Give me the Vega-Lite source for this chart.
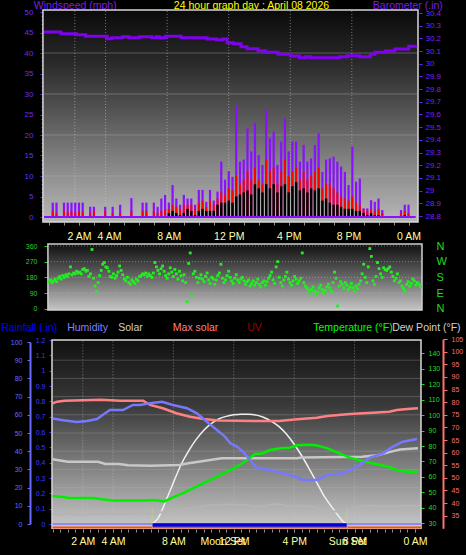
{
  "$schema": "https://vega.github.io/schema/vega-lite/v6.json",
  "width": 466,
  "height": 555,
  "autosize": {"type": "none"},
  "padding": 0,
  "background": "#000000",
  "config": {
    "font": "Liberation Sans",
    "view": {"stroke": null},
    "axis": {"labelOverlap": false, "labelFlush": false, "labelBound": false, "titleFontWeight": "normal", "titleFont": "Liberation Sans", "labelFont": "Liberation Sans", "grid": false, "domain": false, "titlePadding": 0}
  },
  "datasets": {
    "wind": [
      {"h":0,"g":0,"w":0,"a":0},{"h":0.25,"g":3.5,"w":1.5,"a":0},{"h":0.5,"g":3.5,"w":1,"a":0},{"h":0.75,"g":0,"w":0,"a":0},
      {"h":1,"g":3.5,"w":1.5,"a":0},{"h":1.25,"g":3.5,"w":1.2,"a":0},{"h":1.5,"g":3.5,"w":1.5,"a":0},{"h":1.75,"g":3.5,"w":1,"a":0},
      {"h":2,"g":3.5,"w":1.5,"a":0},{"h":2.25,"g":3.5,"w":1.2,"a":0},{"h":2.5,"g":0,"w":0,"a":0},{"h":2.75,"g":2.5,"w":1,"a":0},
      {"h":3,"g":2.5,"w":1.5,"a":0},{"h":3.25,"g":0,"w":0,"a":0},{"h":3.5,"g":0,"w":0,"a":0},{"h":3.75,"g":2.5,"w":1.5,"a":0},
      {"h":4,"g":0,"w":0,"a":0},{"h":4.25,"g":2.5,"w":1,"a":0},{"h":4.5,"g":0,"w":0,"a":0},{"h":4.75,"g":3,"w":1,"a":0},
      {"h":5,"g":0,"w":0,"a":0},{"h":5.25,"g":0,"w":0,"a":0},{"h":5.5,"g":4.6,"w":1.5,"a":0},{"h":5.75,"g":0,"w":0,"a":0},
      {"h":6,"g":0,"w":0,"a":0},{"h":6.25,"g":3.5,"w":1.5,"a":0},{"h":6.5,"g":3.5,"w":1.5,"a":0},{"h":6.75,"g":0,"w":0,"a":0},
      {"h":7,"g":3.5,"w":1.5,"a":0},{"h":7.25,"g":2.5,"w":1,"a":0},{"h":7.5,"g":4.5,"w":1.5,"a":0},{"h":7.75,"g":5.4,"w":2,"a":0},
      {"h":8,"g":3.5,"w":2,"a":1},{"h":8.25,"g":7.8,"w":3,"a":1.5},{"h":8.5,"g":4.5,"w":2.5,"a":1},{"h":8.75,"g":3,"w":2,"a":0.5},
      {"h":9,"g":5.4,"w":3,"a":1},{"h":9.25,"g":4.5,"w":3,"a":2},{"h":9.5,"g":4.5,"w":3,"a":1.5},{"h":9.75,"g":3,"w":2,"a":0.5},
      {"h":10,"g":6.6,"w":3.5,"a":1.5},{"h":10.25,"g":6.6,"w":4,"a":2},{"h":10.5,"g":3.7,"w":2.5,"a":1.5},{"h":10.75,"g":6.6,"w":4,"a":1.5},
      {"h":11,"g":4,"w":3,"a":1.5},{"h":11.25,"g":6.2,"w":4.5,"a":3},{"h":11.5,"g":13.5,"w":6,"a":3.5},{"h":11.75,"g":9.1,"w":5.5,"a":3.5},
      {"h":12,"g":11.2,"w":7,"a":4},{"h":12.25,"g":9.8,"w":6.5,"a":3.5},{"h":12.5,"g":27.3,"w":10,"a":5},{"h":12.75,"g":13.5,"w":8,"a":5.5},
      {"h":13,"g":14,"w":9,"a":6},{"h":13.25,"g":21.6,"w":11,"a":6.5},{"h":13.5,"g":16,"w":9,"a":5.5},{"h":13.75,"g":22.9,"w":12,"a":8},
      {"h":14,"g":15.1,"w":9,"a":7},{"h":14.25,"g":12.7,"w":8,"a":6},{"h":14.5,"g":26.1,"w":14,"a":8},{"h":14.75,"g":19.2,"w":11,"a":7},
      {"h":15,"g":20.8,"w":12,"a":8},{"h":15.25,"g":12.7,"w":8,"a":6},{"h":15.5,"g":18.4,"w":11,"a":7.5},{"h":15.75,"g":24,"w":14,"a":8},
      {"h":16,"g":16,"w":10,"a":6},{"h":16.25,"g":18.4,"w":11,"a":7.5},{"h":16.5,"g":18.4,"w":12,"a":8.5},{"h":16.75,"g":13.5,"w":9,"a":6.5},
      {"h":17,"g":17.6,"w":11,"a":7},{"h":17.25,"g":13.5,"w":9,"a":6},{"h":17.5,"g":14.3,"w":10,"a":7},{"h":17.75,"g":17.6,"w":11,"a":6.5},
      {"h":18,"g":20.4,"w":12,"a":7},{"h":18.25,"g":11,"w":7,"a":4},{"h":18.5,"g":14,"w":8,"a":4.5},{"h":18.75,"g":14.3,"w":8,"a":3.5},
      {"h":19,"g":14.7,"w":7,"a":3},{"h":19.25,"g":13.5,"w":6,"a":3},{"h":19.5,"g":12.3,"w":5,"a":2.5},{"h":19.75,"g":11,"w":4.5,"a":2},
      {"h":20,"g":7.8,"w":4,"a":2},{"h":20.25,"g":17.2,"w":5,"a":2},{"h":20.5,"g":8.6,"w":3.5,"a":1.5},{"h":20.75,"g":9.4,"w":3,"a":1.5},
      {"h":21,"g":2.1,"w":2,"a":1},{"h":21.25,"g":2.1,"w":1.5,"a":0.5},{"h":21.5,"g":4.1,"w":2,"a":1},{"h":21.75,"g":3.7,"w":1.5,"a":0.5},
      {"h":22,"g":4.5,"w":2,"a":0.5},{"h":22.25,"g":1.7,"w":1,"a":0},{"h":22.5,"g":0,"w":0,"a":0},{"h":22.75,"g":0,"w":0,"a":0},
      {"h":23,"g":0,"w":0,"a":0},{"h":23.25,"g":0,"w":0,"a":0},{"h":23.5,"g":1.7,"w":1,"a":0},{"h":23.75,"g":3,"w":1.5,"a":0.5},
      {"h":24,"g":3,"w":1,"a":0},{"h":24.25,"g":0,"w":0,"a":0}
    ],
    "baro": [
      {"h":0,"v":30.25},{"h":1.1,"v":30.237},{"h":2.1,"v":30.229},{"h":2.7,"v":30.216},{"h":4.1,"v":30.197},{"h":4.4,"v":30.205},
      {"h":5.1,"v":30.213},{"h":5.5,"v":30.205},{"h":6.2,"v":30.213},{"h":7.0,"v":30.205},{"h":7.3,"v":30.213},{"h":7.5,"v":30.205},
      {"h":7.9,"v":30.216},{"h":8.9,"v":30.205},{"h":10.6,"v":30.195},{"h":11.2,"v":30.19},{"h":11.6,"v":30.195},{"h":11.9,"v":30.166},
      {"h":12.3,"v":30.158},{"h":12.8,"v":30.134},{"h":13.2,"v":30.119},{"h":13.9,"v":30.103},{"h":14.4,"v":30.09},{"h":15.2,"v":30.075},
      {"h":16.0,"v":30.061},{"h":16.6,"v":30.048},{"h":17.0,"v":30.056},{"h":17.3,"v":30.048},{"h":19.2,"v":30.056},{"h":19.7,"v":30.064},
      {"h":20.5,"v":30.056},{"h":21.2,"v":30.075},{"h":21.5,"v":30.09},{"h":22.2,"v":30.1},{"h":22.8,"v":30.116},{"h":23.7,"v":30.138},
      {"h":24.15,"v":30.145}
    ],
    "dir": [
      {"h":0,"d":155},{"h":0.1,"d":165},{"h":0.2,"d":150},{"h":0.3,"d":160},{"h":0.4,"d":170},{"h":0.5,"d":155},{"h":0.6,"d":175},{"h":0.7,"d":185},{"h":0.8,"d":170},{"h":0.9,"d":190},
      {"h":1,"d":180},{"h":1.1,"d":195},{"h":1.2,"d":185},{"h":1.3,"d":200},{"h":1.4,"d":240},{"h":1.5,"d":195},{"h":1.6,"d":205},{"h":1.7,"d":200},{"h":1.8,"d":215},{"h":1.9,"d":205},
      {"h":2,"d":210},{"h":2.1,"d":200},{"h":2.2,"d":225},{"h":2.3,"d":230},{"h":2.4,"d":215},{"h":2.5,"d":220},{"h":2.6,"d":185},{"h":2.7,"d":200},{"h":2.8,"d":340},{"h":2.9,"d":175},
      {"h":3,"d":130},{"h":3.1,"d":100},{"h":3.2,"d":150},{"h":3.3,"d":190},{"h":3.4,"d":220},{"h":3.5,"d":255},{"h":3.6,"d":265},{"h":3.7,"d":240},{"h":3.8,"d":235},{"h":3.9,"d":215},
      {"h":4,"d":185},{"h":4.1,"d":180},{"h":4.2,"d":200},{"h":4.3,"d":175},{"h":4.4,"d":190},{"h":4.5,"d":210},{"h":4.6,"d":245},{"h":4.7,"d":220},{"h":4.8,"d":195},{"h":4.9,"d":170},
      {"h":5,"d":160},{"h":5.1,"d":180},{"h":5.2,"d":150},{"h":5.3,"d":140},{"h":5.4,"d":165},{"h":5.5,"d":155},{"h":5.6,"d":145},{"h":5.7,"d":170},{"h":5.8,"d":160},{"h":5.9,"d":185},
      {"h":6,"d":190},{"h":6.1,"d":200},{"h":6.2,"d":195},{"h":6.3,"d":205},{"h":6.4,"d":185},{"h":6.5,"d":200},{"h":6.6,"d":190},{"h":6.7,"d":180},{"h":6.8,"d":205},{"h":6.9,"d":265},
      {"h":7,"d":240},{"h":7.1,"d":220},{"h":7.2,"d":200},{"h":7.3,"d":230},{"h":7.4,"d":245},{"h":7.5,"d":215},{"h":7.6,"d":190},{"h":7.7,"d":175},{"h":7.8,"d":200},{"h":7.9,"d":235},
      {"h":8,"d":210},{"h":8.1,"d":185},{"h":8.2,"d":225},{"h":8.3,"d":200},{"h":8.4,"d":170},{"h":8.5,"d":215},{"h":8.6,"d":190},{"h":8.7,"d":160},{"h":8.8,"d":195},{"h":8.9,"d":150},
      {"h":9,"d":40},{"h":9.1,"d":260},{"h":9.2,"d":320},{"h":9.3,"d":80},{"h":9.4,"d":200},{"h":9.5,"d":215},{"h":9.6,"d":180},{"h":9.7,"d":150},{"h":9.8,"d":175},{"h":9.9,"d":195},
      {"h":10,"d":170},{"h":10.1,"d":155},{"h":10.2,"d":185},{"h":10.3,"d":205},{"h":10.4,"d":165},{"h":10.5,"d":145},{"h":10.6,"d":180},{"h":10.7,"d":170},{"h":10.8,"d":140},{"h":10.9,"d":165},
      {"h":11,"d":190},{"h":11.1,"d":205},{"h":11.2,"d":255},{"h":11.3,"d":175},{"h":11.4,"d":150},{"h":11.5,"d":165},{"h":11.6,"d":190},{"h":11.7,"d":215},{"h":11.8,"d":180},{"h":11.9,"d":160},
      {"h":12,"d":145},{"h":12.1,"d":175},{"h":12.2,"d":195},{"h":12.3,"d":165},{"h":12.4,"d":150},{"h":12.5,"d":170},{"h":12.6,"d":180},{"h":12.7,"d":160},{"h":12.8,"d":140},{"h":12.9,"d":155},
      {"h":13,"d":165},{"h":13.1,"d":130},{"h":13.2,"d":145},{"h":13.3,"d":160},{"h":13.4,"d":135},{"h":13.5,"d":150},{"h":13.6,"d":170},{"h":13.7,"d":140},{"h":13.8,"d":125},{"h":13.9,"d":150},
      {"h":14,"d":160},{"h":14.1,"d":135},{"h":14.2,"d":155},{"h":14.3,"d":175},{"h":14.4,"d":190},{"h":14.5,"d":210},{"h":14.6,"d":165},{"h":14.7,"d":145},{"h":14.8,"d":240},{"h":14.9,"d":270},
      {"h":15,"d":180},{"h":15.1,"d":150},{"h":15.2,"d":130},{"h":15.3,"d":165},{"h":15.4,"d":185},{"h":15.5,"d":210},{"h":15.6,"d":170},{"h":15.7,"d":150},{"h":15.8,"d":135},{"h":15.9,"d":160},
      {"h":16,"d":185},{"h":16.1,"d":170},{"h":16.2,"d":145},{"h":16.3,"d":160},{"h":16.4,"d":175},{"h":16.5,"d":320},{"h":16.6,"d":150},{"h":16.7,"d":130},{"h":16.8,"d":120},{"h":16.9,"d":105},
      {"h":17,"d":90},{"h":17.1,"d":110},{"h":17.2,"d":125},{"h":17.3,"d":100},{"h":17.4,"d":80},{"h":17.5,"d":95},{"h":17.6,"d":120},{"h":17.7,"d":135},{"h":17.8,"d":110},{"h":17.9,"d":90},
      {"h":18,"d":105},{"h":18.1,"d":125},{"h":18.2,"d":140},{"h":18.3,"d":120},{"h":18.4,"d":100},{"h":18.5,"d":150},{"h":18.6,"d":210},{"h":18.7,"d":175},{"h":18.8,"d":15},{"h":18.9,"d":130},
      {"h":19,"d":155},{"h":19.1,"d":140},{"h":19.2,"d":120},{"h":19.3,"d":150},{"h":19.4,"d":135},{"h":19.5,"d":110},{"h":19.6,"d":125},{"h":19.7,"d":145},{"h":19.8,"d":120},{"h":19.9,"d":100},
      {"h":20,"d":130},{"h":20.1,"d":115},{"h":20.2,"d":140},{"h":20.3,"d":160},{"h":20.4,"d":200},{"h":20.5,"d":255},{"h":20.6,"d":180},{"h":20.7,"d":150},{"h":20.8,"d":240},{"h":20.9,"d":345},
      {"h":21,"d":300},{"h":21.1,"d":160},{"h":21.2,"d":140},{"h":21.3,"d":185},{"h":21.4,"d":265},{"h":21.5,"d":230},{"h":21.6,"d":200},{"h":21.7,"d":180},{"h":21.8,"d":235},{"h":21.9,"d":225},
      {"h":22,"d":220},{"h":22.1,"d":230},{"h":22.2,"d":240},{"h":22.3,"d":210},{"h":22.4,"d":185},{"h":22.5,"d":160},{"h":22.6,"d":175},{"h":22.7,"d":200},{"h":22.8,"d":150},{"h":22.9,"d":160},
      {"h":23,"d":130},{"h":23.1,"d":115},{"h":23.2,"d":100},{"h":23.3,"d":140},{"h":23.4,"d":155},{"h":23.5,"d":130},{"h":23.6,"d":145},{"h":23.7,"d":170},{"h":23.8,"d":160},{"h":23.9,"d":135},
      {"h":24,"d":150},{"h":24.1,"d":140},{"h":24.2,"d":125}
    ],
    "hum": [
      {"h":0,"v":58},{"h":0.69,"v":57},{"h":1.62,"v":56},{"h":2.28,"v":56.6},{"h":2.94,"v":57.7},{"h":3.34,"v":60},{"h":3.8,"v":62.6},
      {"h":4.66,"v":62.6},{"h":5.32,"v":65.4},{"h":5.78,"v":65.4},{"h":6.45,"v":66.3},{"h":7.25,"v":67.2},{"h":7.97,"v":65.4},{"h":8.9,"v":63.6},
      {"h":9.56,"v":60.8},{"h":10.22,"v":56.2},{"h":10.89,"v":51.6},{"h":11.42,"v":48},{"h":11.75,"v":44.5},{"h":12.21,"v":42.5},{"h":12.61,"v":39.7},
      {"h":13.07,"v":35.2},{"h":13.54,"v":30.6},{"h":14.4,"v":29.7},{"h":15.26,"v":27.9},{"h":15.92,"v":26.5},{"h":16.58,"v":24.2},{"h":17.51,"v":24.2},
      {"h":18.17,"v":26.9},{"h":19.23,"v":27.9},{"h":20.16,"v":31.5},{"h":21.02,"v":36.5},{"h":21.88,"v":38.8},{"h":22.54,"v":42.5},{"h":23.2,"v":45.2},
      {"h":24.13,"v":46.7}
    ],
    "temp": [
      {"h":0,"v":47.7},{"h":0.7,"v":47},{"h":1,"v":46.6},{"h":2.7,"v":46.3},{"h":3.3,"v":45.5},{"h":4,"v":44.8},{"h":6,"v":44.8},{"h":6.7,"v":45.1},
      {"h":7.4,"v":44.2},{"h":7.97,"v":46.8},{"h":8.6,"v":49.4},{"h":9.3,"v":52.6},{"h":9.96,"v":55.9},{"h":10.9,"v":60.2},{"h":11.55,"v":63.4},
      {"h":12.2,"v":66.6},{"h":12.9,"v":71},{"h":13.4,"v":74.8},{"h":13.9,"v":75.2},{"h":14.4,"v":77.4},{"h":15.1,"v":78.5},{"h":15.7,"v":78.9},
      {"h":16.2,"v":80.5},{"h":17,"v":80.9},{"h":17.5,"v":80.4},{"h":18.2,"v":78.5},{"h":18.8,"v":76},{"h":19.7,"v":72.5},{"h":20.6,"v":70},
      {"h":21.5,"v":68.2},{"h":22.3,"v":66.4},{"h":22.8,"v":64.5},{"h":23.5,"v":63.4},{"h":24.2,"v":63.4}
    ],
    "dew": [
      {"h":0,"v":57.4},{"h":1,"v":56.4},{"h":3,"v":56.4},{"h":3.5,"v":55.5},{"h":4.4,"v":55.5},{"h":5,"v":55},{"h":6.5,"v":54.8},{"h":8.4,"v":55.1},
      {"h":9,"v":55.8},{"h":10,"v":56.7},{"h":11.2,"v":57.8},{"h":16.2,"v":57.8},{"h":16.5,"v":58.1},{"h":20.5,"v":58.4},{"h":21.5,"v":59},
      {"h":22.5,"v":60.5},{"h":23,"v":61.2},{"h":24.2,"v":61.7}
    ],
    "pink": [
      {"h":0,"v":79.5},{"h":0.3,"v":80.2},{"h":0.8,"v":80.6},{"h":3.2,"v":81},{"h":4.5,"v":80.6},{"h":6,"v":80.6},{"h":6.45,"v":78.9},{"h":7.3,"v":77.6},
      {"h":8.2,"v":75.6},{"h":9.1,"v":74.2},{"h":10,"v":73.3},{"h":11,"v":72.7},{"h":15,"v":72.5},{"h":16.2,"v":73.2},{"h":17.5,"v":73.8},
      {"h":18.2,"v":74.5},{"h":19.7,"v":75.3},{"h":21.2,"v":75.8},{"h":22.3,"v":76.2},{"h":22.8,"v":76.9},{"h":23.5,"v":77.3},{"h":24.2,"v":77.6}
    ],
    "solar": [
      {"h":0,"v":65},{"h":0.5,"v":60},{"h":1,"v":68},{"h":1.5,"v":62},{"h":2,"v":58},{"h":2.5,"v":66},{"h":3,"v":62},{"h":3.5,"v":70},{"h":4,"v":64},
      {"h":4.5,"v":68},{"h":5,"v":62},{"h":5.5,"v":70},{"h":6,"v":72},{"h":6.5,"v":66},{"h":7,"v":74},{"h":7.5,"v":80},{"h":8,"v":88},{"h":8.5,"v":95},
      {"h":9,"v":102},{"h":9.5,"v":110},{"h":10,"v":118},{"h":10.5,"v":124},{"h":11,"v":120},{"h":11.5,"v":128},{"h":12,"v":122},{"h":12.5,"v":126},
      {"h":13,"v":120},{"h":13.5,"v":112},{"h":14,"v":118},{"h":14.5,"v":126},{"h":15,"v":130},{"h":15.5,"v":118},{"h":16,"v":112},{"h":16.5,"v":120},
      {"h":17,"v":116},{"h":17.5,"v":108},{"h":18,"v":96},{"h":18.5,"v":85},{"h":19,"v":78},{"h":19.5,"v":92},{"h":20,"v":110},{"h":20.5,"v":116},
      {"h":21,"v":120},{"h":21.5,"v":114},{"h":22,"v":118},{"h":22.5,"v":112},{"h":23,"v":116},{"h":23.5,"v":120},{"h":24,"v":118},{"h":24.3,"v":116}
    ],
    "maxsolar": [
      {"h":6.6,"v":0},{"h":7,"v":40},{"h":7.5,"v":150},{"h":8,"v":270},{"h":8.5,"v":385},{"h":9,"v":475},{"h":9.5,"v":550},{"h":10,"v":610},
      {"h":10.5,"v":655},{"h":11,"v":685},{"h":11.5,"v":702},{"h":12,"v":712},{"h":12.5,"v":716},{"h":13,"v":716},{"h":13.5,"v":710},{"h":14,"v":695},
      {"h":14.5,"v":670},{"h":15,"v":635},{"h":15.5,"v":585},{"h":16,"v":520},{"h":16.5,"v":445},{"h":17,"v":360},{"h":17.5,"v":270},{"h":18,"v":180},
      {"h":18.5,"v":110},{"h":19,"v":45},{"h":19.25,"v":15},{"h":19.5,"v":0}
    ],
    "rain": [{"h":0,"v":0},{"h":24.4,"v":0}],
    "daylight": [{"h":6.6,"v":0},{"h":19.5,"v":0}],
    "uv": [{"h":0,"v":0},{"h":24.4,"v":0}],
    "sun": [{"h":6.6},{"h":19.5}]
  },
  "layer": [
    {
      "data": {"values": [{}]},
      "mark": {"type": "rect", "fill": {"gradient": "linear", "x1": 0, "y1": 0, "x2": 0, "y2": 1, "stops": [{"offset": 0, "color": "#0a0a0a"}, {"offset": 0.25, "color": "#2a2a2a"}, {"offset": 0.5, "color": "#585858"}, {"offset": 0.75, "color": "#8a8a8a"}, {"offset": 1, "color": "#b8b8b8"}]}, "stroke": "#d8d8d8", "strokeWidth": 1.5},
      "encoding": {
        "x": {"datum": -0.07, "type": "quantitative", "scale": {"domain": [0, 24.3], "range": [44, 418], "nice": false, "zero": false}, "axis": null},
        "x2": {"datum": 24.3},
        "y": {"datum": -1.2, "type": "quantitative", "scale": {"domain": [0, 50], "range": [217, 12], "nice": false, "zero": false}, "axis": null},
        "y2": {"datum": 50.5}
      }
    },
    {
      "data": {"values": [{"t": 2}, {"t": 4}, {"t": 8}, {"t": 12}, {"t": 16}, {"t": 20}]},
      "mark": {"type": "rule", "color": "#d0d0d0", "strokeDash": [1, 2], "opacity": 0.55},
      "encoding": {
        "x": {"field": "t", "type": "quantitative", "scale": {"domain": [0, 24.3], "range": [44, 418], "nice": false, "zero": false}, "axis": null},
        "y": {"datum": -1.2, "type": "quantitative", "scale": {"domain": [0, 50], "range": [217, 12], "nice": false, "zero": false}, "axis": null},
        "y2": {"datum": 50.5}
      }
    },
    {
      "data": {"values": [{"s": 10}, {"s": 20}, {"s": 30}, {"s": 40}]},
      "mark": {"type": "rule", "color": "#b0b0b0", "opacity": 0.4},
      "encoding": {
        "y": {"field": "s", "type": "quantitative", "scale": {"domain": [0, 50], "range": [217, 12], "nice": false, "zero": false}, "axis": null},
        "x": {"datum": -0.07, "type": "quantitative", "scale": {"domain": [0, 24.3], "range": [44, 418], "nice": false, "zero": false}, "axis": null},
        "x2": {"datum": 24.3}
      }
    },
    {
      "data": {"name": "wind"},
      "mark": {"type": "bar", "width": 2.2, "color": "#8a10ff"},
      "encoding": {
        "x": {"field": "h", "type": "quantitative", "scale": {"domain": [0, 24.3], "range": [44, 418], "nice": false, "zero": false},
          "axis": {"orient": "bottom", "offset": -333, "values": [2, 4, 8, 12, 16, 20, 24], "labelExpr": "datum.value == 24 ? '0 AM' : datum.value == 12 ? '12 PM' : datum.value < 12 ? datum.value + ' AM' : (datum.value - 12) + ' PM'", "ticks": true, "tickSize": 3, "tickColor": "#909090", "labelColor": "#ffffa0", "labelFontSize": 10.5, "labelPadding": 6, "title": "24 hour graph day : April 08 2026", "titleColor": "#ffff00", "titleFontSize": 10.5, "titleX": 251, "titleY": -213.5, "titleAlign": "center", "titleBaseline": "alphabetic"}},
        "y": {"field": "g", "type": "quantitative", "scale": {"domain": [0, 50], "range": [217, 12], "nice": false, "zero": false},
          "axis": {"orient": "left", "offset": -43, "values": [0, 5, 10, 15, 20, 25, 30, 35, 40, 45, 50], "ticks": true, "tickSize": 3, "tickColor": "#7020ff", "labelColor": "#6a2cff", "labelFontSize": 8, "labelPadding": 7, "title": "Windspeed (mph)", "titleColor": "#7a1fe8", "titleFontSize": 10.5, "titleAngle": 0, "titleAlign": "left", "titleBaseline": "alphabetic", "titleX": -9.7, "titleY": 8.5}},
        "y2": {"datum": 0}
      }
    },
    {
      "data": {"name": "wind"},
      "mark": {"type": "bar", "width": 2, "color": "#ff0000"},
      "encoding": {
        "x": {"field": "h", "type": "quantitative", "scale": {"domain": [0, 24.3], "range": [44, 418], "nice": false, "zero": false},
          "axis": {"orient": "bottom", "offset": -333, "values": [0, 1, 2, 3, 4, 5, 6, 7, 8, 9, 10, 11, 12, 13, 14, 15, 16, 17, 18, 19, 20, 21, 22, 23, 24], "labels": false, "ticks": true, "tickSize": 3, "tickColor": "#909090", "title": null}},
        "y": {"field": "w", "type": "quantitative", "scale": {"domain": [0, 50], "range": [217, 12], "nice": false, "zero": false}, "axis": null},
        "y2": {"datum": 0}
      }
    },
    {
      "data": {"name": "wind"},
      "mark": {"type": "bar", "width": 2.4, "color": "#000000"},
      "encoding": {
        "x": {"field": "h", "type": "quantitative", "scale": {"domain": [0, 24.3], "range": [44, 418], "nice": false, "zero": false}, "axis": null},
        "y": {"field": "a", "type": "quantitative", "scale": {"domain": [0, 50], "range": [217, 12], "nice": false, "zero": false}, "axis": null},
        "y2": {"datum": 0}
      }
    },
    {
      "data": {"values": [{}]},
      "mark": {"type": "rule", "color": "#8a10ff", "strokeWidth": 2},
      "encoding": {
        "x": {"datum": 0, "type": "quantitative", "scale": {"domain": [0, 24.3], "range": [44, 418], "nice": false, "zero": false}, "axis": null},
        "x2": {"datum": 24.15},
        "y": {"datum": 0, "type": "quantitative", "scale": {"domain": [0, 50], "range": [217, 12], "nice": false, "zero": false},
          "axis": {"orient": "left", "offset": -43, "values": [0, 1, 2, 3, 4, 6, 7, 8, 9, 11, 12, 13, 14, 16, 17, 18, 19, 21, 22, 23, 24, 26, 27, 28, 29, 31, 32, 33, 34, 36, 37, 38, 39, 41, 42, 43, 44, 46, 47, 48, 49], "labels": false, "ticks": true, "tickSize": 2, "tickColor": "#7020ff", "title": null}}
      }
    },
    {
      "data": {"name": "baro"},
      "mark": {"type": "line", "color": "#8000f0", "strokeWidth": 3, "interpolate": "step-after"},
      "encoding": {
        "x": {"field": "h", "type": "quantitative", "scale": {"domain": [0, 24.3], "range": [44, 418], "nice": false, "zero": false}, "axis": null},
        "y": {"field": "v", "type": "quantitative", "scale": {"domain": [28.8, 30.4], "range": [216, 13], "nice": false, "zero": false},
          "axis": {"orient": "right", "offset": -47, "values": [28.8, 28.9, 29, 29.1, 29.2, 29.3, 29.4, 29.5, 29.6, 29.7, 29.8, 29.9, 30, 30.1, 30.2, 30.3, 30.4], "format": ".1~f", "ticks": true, "tickSize": 3, "tickColor": "#7020ff", "labelColor": "#7a22ff", "labelFontSize": 8, "labelPadding": 3, "title": "Barometer (.in)", "titleColor": "#7a1fe8", "titleFontSize": 10.5, "titleAngle": 0, "titleAlign": "left", "titleBaseline": "alphabetic", "titleX": -46.7, "titleY": 8.2}}
      }
    },
    {
      "data": {"values": [{}]},
      "mark": {"type": "rect", "fill": {"gradient": "linear", "x1": 0, "y1": 0, "x2": 0, "y2": 1, "stops": [{"offset": 0, "color": "#0e0e0e"}, {"offset": 0.5, "color": "#666666"}, {"offset": 1, "color": "#c4c4c4"}]}, "stroke": "#d0d0d0", "strokeWidth": 1.5},
      "encoding": {
        "x": {"datum": -0.07, "type": "quantitative", "scale": {"domain": [0, 24.3], "range": [49, 422], "nice": false, "zero": false}, "axis": null},
        "x2": {"datum": 24.3},
        "y": {"datum": -7, "type": "quantitative", "scale": {"domain": [0, 360], "range": [308.7, 246], "nice": false, "zero": false},
          "axis": {"orient": "right", "offset": -44, "values": [0, 90, 180, 270, 360], "labelExpr": "datum.value == 270 ? 'W' : datum.value == 180 ? 'S' : datum.value == 90 ? 'E' : 'N'", "ticks": false, "tickSize": 0, "labelColor": "#22dd22", "labelFontSize": 11, "labelPadding": 14, "labelAlign": "left", "title": null}},
        "y2": {"datum": 371}
      }
    },
    {
      "data": {"values": [{"q": 90}, {"q": 180}, {"q": 270}, {"q": 360}]},
      "mark": {"type": "rule", "color": "#c8c8c8", "strokeDash": [1, 2], "opacity": 0.5},
      "encoding": {
        "y": {"field": "q", "type": "quantitative", "scale": {"domain": [0, 360], "range": [308.7, 246], "nice": false, "zero": false}, "axis": null},
        "x": {"datum": -0.07, "type": "quantitative", "scale": {"domain": [0, 24.3], "range": [49, 422], "nice": false, "zero": false}, "axis": null},
        "x2": {"datum": 24.3}
      }
    },
    {
      "data": {"name": "dir"},
      "mark": {"type": "point", "shape": "square", "filled": true, "size": 8, "color": "#22ee22", "opacity": 1},
      "encoding": {
        "x": {"field": "h", "type": "quantitative", "scale": {"domain": [0, 24.3], "range": [49, 422], "nice": false, "zero": false}, "axis": null},
        "y": {"field": "d", "type": "quantitative", "scale": {"domain": [0, 360], "range": [308.7, 246], "nice": false, "zero": false},
          "axis": {"orient": "left", "offset": -48, "values": [0, 90, 180, 270, 360], "ticks": true, "tickSize": 4, "tickColor": "#22cc22", "labelColor": "#33cc33", "labelFontSize": 7, "labelPadding": 7, "title": null}}
      }
    },
    {
      "data": {"values": [{}]},
      "mark": {"type": "rect", "fill": {"gradient": "linear", "x1": 0, "y1": 0, "x2": 0, "y2": 1, "stops": [{"offset": 0, "color": "#111111"}, {"offset": 0.35, "color": "#3a3a3a"}, {"offset": 0.65, "color": "#7c7c7c"}, {"offset": 1, "color": "#c8c8c8"}]}, "stroke": "#d8d8d8", "strokeWidth": 1.5},
      "encoding": {
        "x": {"datum": -0.04, "type": "quantitative", "scale": {"domain": [0, 24.4], "range": [52.6, 421], "nice": false, "zero": false}, "axis": null},
        "x2": {"datum": 24.4},
        "y": {"datum": -2.4, "type": "quantitative", "scale": {"domain": [0, 100], "range": [524, 342], "nice": false, "zero": false}, "axis": null},
        "y2": {"datum": 101.1}
      }
    },
    {
      "data": {"values": [{"t": 2}, {"t": 4}, {"t": 8}, {"t": 12}, {"t": 16}, {"t": 20}]},
      "mark": {"type": "rule", "color": "#d0d0d0", "strokeDash": [1, 2], "opacity": 0.5},
      "encoding": {
        "x": {"field": "t", "type": "quantitative", "scale": {"domain": [0, 24.4], "range": [52.6, 421], "nice": false, "zero": false}, "axis": null},
        "y": {"datum": -2.4, "type": "quantitative", "scale": {"domain": [0, 100], "range": [524, 342], "nice": false, "zero": false}, "axis": null},
        "y2": {"datum": 101.1}
      }
    },
    {
      "data": {"values": [{"s": 10}, {"s": 20}, {"s": 30}, {"s": 40}, {"s": 50}, {"s": 60}, {"s": 70}, {"s": 80}, {"s": 90}]},
      "mark": {"type": "rule", "color": "#b0b0b0", "opacity": 0.3},
      "encoding": {
        "y": {"field": "s", "type": "quantitative", "scale": {"domain": [0, 100], "range": [524, 342], "nice": false, "zero": false}, "axis": null},
        "x": {"datum": -0.04, "type": "quantitative", "scale": {"domain": [0, 24.4], "range": [52.6, 421], "nice": false, "zero": false}, "axis": null},
        "x2": {"datum": 24.4}
      }
    },
    {
      "data": {"name": "maxsolar"},
      "mark": {"type": "line", "color": "#f0f0f0", "strokeWidth": 1.5, "interpolate": "monotone"},
      "encoding": {
        "x": {"field": "h", "type": "quantitative", "scale": {"domain": [0, 24.4], "range": [52.6, 421], "nice": false, "zero": false}, "axis": null},
        "y": {"field": "v", "type": "quantitative", "scale": {"domain": [0, 1200], "range": [524, 340], "nice": false, "zero": false},
          "axis": {"orient": "left", "offset": 0, "labels": false, "ticks": false, "domain": false, "title": "Max solar", "titleColor": "#ff8080", "titleFontSize": 10.5, "titleAngle": 0, "titleAlign": "left", "titleBaseline": "alphabetic", "titleX": 172.3, "titleY": 330.7}}
      }
    },
    {
      "data": {"name": "solar"},
      "mark": {"type": "line", "color": "#b4b4b4", "strokeWidth": 2},
      "encoding": {
        "x": {"field": "h", "type": "quantitative", "scale": {"domain": [0, 24.4], "range": [52.6, 421], "nice": false, "zero": false}, "axis": null},
        "y": {"field": "v", "type": "quantitative", "scale": {"domain": [0, 1200], "range": [524, 340], "nice": false, "zero": false},
          "axis": {"orient": "left", "offset": 0, "labels": false, "ticks": false, "domain": false, "title": "Solar", "titleColor": "#d0d0d0", "titleFontSize": 10.5, "titleAngle": 0, "titleAlign": "left", "titleBaseline": "alphabetic", "titleX": 117.7, "titleY": 330.7}}
      }
    },
    {
      "data": {"name": "dew"},
      "mark": {"type": "line", "color": "#c8c8c8", "strokeWidth": 2.5},
      "encoding": {
        "x": {"field": "h", "type": "quantitative", "scale": {"domain": [0, 24.4], "range": [52.6, 421], "nice": false, "zero": false}, "axis": null},
        "y": {"field": "v", "type": "quantitative", "scale": {"domain": [30, 105], "range": [528.3, 339.1], "nice": false, "zero": false}, "axis": null}
      }
    },
    {
      "data": {"name": "pink"},
      "mark": {"type": "line", "color": "#ff8080", "strokeWidth": 2.5},
      "encoding": {
        "x": {"field": "h", "type": "quantitative", "scale": {"domain": [0, 24.4], "range": [52.6, 421], "nice": false, "zero": false}, "axis": null},
        "y": {"field": "v", "type": "quantitative", "scale": {"domain": [30, 105], "range": [528.3, 339.1], "nice": false, "zero": false},
          "axis": {"orient": "right", "offset": -23, "values": [35, 40, 45, 50, 55, 60, 65, 70, 75, 80, 85, 90, 95, 100, 105], "domain": true, "domainColor": "#ff7070", "domainWidth": 2, "ticks": true, "tickSize": 4, "tickColor": "#ff7070", "labelColor": "#ff7070", "labelFontSize": 7, "labelPadding": 4, "title": "Dew Point (°F)", "titleColor": "#d0d0d0", "titleFontSize": 10.5, "titleAngle": 0, "titleAlign": "left", "titleBaseline": "alphabetic", "titleX": -51.3, "titleY": 330.7}}
      }
    },
    {
      "data": {"name": "temp"},
      "mark": {"type": "line", "color": "#00ee00", "strokeWidth": 2.5},
      "encoding": {
        "x": {"field": "h", "type": "quantitative", "scale": {"domain": [0, 24.4], "range": [52.6, 421], "nice": false, "zero": false}, "axis": null},
        "y": {"field": "v", "type": "quantitative", "scale": {"domain": [30, 140], "range": [523.3, 353.3], "nice": false, "zero": false},
          "axis": {"orient": "right", "offset": -45, "values": [30, 40, 50, 60, 70, 80, 90, 100, 110, 120, 130, 140], "ticks": true, "tickSize": 3, "tickColor": "#22dd22", "labelColor": "#22dd22", "labelFontSize": 7, "labelPadding": 4, "title": "Temperature (°F)", "titleColor": "#00ff00", "titleFontSize": 10.5, "titleAngle": 0, "titleAlign": "left", "titleBaseline": "alphabetic", "titleX": -108.3, "titleY": 330.7}}
      }
    },
    {
      "data": {"name": "hum"},
      "mark": {"type": "line", "color": "#7878ff", "strokeWidth": 2.5},
      "encoding": {
        "x": {"field": "h", "type": "quantitative", "scale": {"domain": [0, 24.4], "range": [52.6, 421], "nice": false, "zero": false},
          "axis": {"orient": "bottom", "offset": -26, "values": [2, 4, 8, 12, 16, 20, 24], "labelExpr": "datum.value == 24 ? '0 AM' : datum.value == 12 ? '12 PM' : datum.value < 12 ? datum.value + ' AM' : (datum.value - 12) + ' PM'", "ticks": true, "tickSize": 3, "tickColor": "#909090", "labelColor": "#ffffa0", "labelFontSize": 10.5, "labelPadding": 4, "title": null}},
        "y": {"field": "v", "type": "quantitative", "scale": {"domain": [0, 100], "range": [524, 342], "nice": false, "zero": false},
          "axis": {"orient": "left", "offset": -30, "values": [0, 10, 20, 30, 40, 50, 60, 70, 80, 90, 100], "domain": true, "domainColor": "#6a6aff", "domainWidth": 2, "ticks": true, "tickSize": 3, "tickColor": "#6a6aff", "labelColor": "#6a6aff", "labelFontSize": 7, "labelPadding": 5, "title": "Humidity", "titleColor": "#8080ff", "titleFontSize": 10.5, "titleAngle": 0, "titleAlign": "left", "titleBaseline": "alphabetic", "titleX": 36.7, "titleY": 330.7}}
      }
    },
    {
      "data": {"name": "rain"},
      "mark": {"type": "line", "color": "#7a7aff", "strokeWidth": 1.5},
      "encoding": {
        "x": {"field": "h", "type": "quantitative", "scale": {"domain": [0, 24.4], "range": [52.6, 421], "nice": false, "zero": false}, "axis": null},
        "y": {"field": "v", "type": "quantitative", "scale": {"domain": [0, 1.2], "range": [524, 340], "nice": false, "zero": false},
          "axis": {"orient": "left", "offset": -52, "values": [0, 0.1, 0.2, 0.3, 0.4, 0.5, 0.6, 0.7, 0.8, 0.9, 1, 1.1, 1.2], "format": ".1~f", "ticks": true, "tickSize": 3, "tickColor": "#3838ff", "labelColor": "#3838ff", "labelFontSize": 7, "labelPadding": 4, "title": "Rainfall (.in)", "titleColor": "#0000ff", "titleFontSize": 10.5, "titleAngle": 0, "titleAlign": "left", "titleBaseline": "alphabetic", "titleX": -51.3, "titleY": 330.7}}
      }
    },
    {
      "data": {"name": "uv"},
      "mark": {"type": "line", "color": "#ff5000", "strokeWidth": 2},
      "encoding": {
        "x": {"field": "h", "type": "quantitative", "scale": {"domain": [0, 24.4], "range": [52.6, 421], "nice": false, "zero": false}, "axis": null},
        "y": {"field": "v", "type": "quantitative", "scale": {"domain": [0, 16], "range": [527.5, 340], "nice": false, "zero": false},
          "axis": {"orient": "left", "offset": 0, "labels": false, "ticks": false, "domain": false, "title": "UV", "titleColor": "#a00000", "titleFontSize": 10.5, "titleAngle": 0, "titleAlign": "left", "titleBaseline": "alphabetic", "titleX": 246.7, "titleY": 330.7}}
      }
    },
    {
      "data": {"name": "daylight"},
      "mark": {"type": "line", "color": "#0000dd", "strokeWidth": 3.5},
      "encoding": {
        "x": {"field": "h", "type": "quantitative", "scale": {"domain": [0, 24.4], "range": [52.6, 421], "nice": false, "zero": false},
          "axis": {"orient": "bottom", "offset": -26, "values": [0, 0.5, 1, 1.5, 2, 2.5, 3, 3.5, 4, 4.5, 5, 5.5, 6, 6.5, 7, 7.5, 8, 8.5, 9, 9.5, 10, 10.5, 11, 11.5, 12, 12.5, 13, 13.5, 14, 14.5, 15, 15.5, 16, 16.5, 17, 17.5, 18, 18.5, 19, 19.5, 20, 20.5, 21, 21.5, 22, 22.5, 23, 23.5, 24], "labels": false, "ticks": true, "tickSize": 3, "tickColor": "#909090", "title": null}},
        "y": {"field": "v", "type": "quantitative", "scale": {"domain": [0, 1.2], "range": [525, 341], "nice": false, "zero": false}, "axis": null}
      }
    },
    {
      "data": {"name": "sun"},
      "mark": {"type": "rule", "color": "#c8e050", "strokeDash": [1, 1], "strokeWidth": 1},
      "encoding": {
        "x": {"field": "h", "type": "quantitative", "scale": {"domain": [0, 24.4], "range": [52.6, 421], "nice": false, "zero": false},
          "axis": {"orient": "bottom", "offset": -26, "values": [11.25, 19.5], "labelExpr": "datum.value < 15 ? 'Moon Set' : 'Sun Set'", "ticks": false, "tickSize": 0, "labelColor": "#ffffa0", "labelFontSize": 10.5, "labelPadding": 7, "title": null}},
        "y": {"datum": -2, "type": "quantitative", "scale": {"domain": [0, 100], "range": [524, 342], "nice": false, "zero": false}, "axis": null},
        "y2": {"datum": 9}
      }
    }
  ],
  "resolve": {"scale": {"x": "independent", "y": "independent"}, "axis": {"x": "independent", "y": "independent"}}
}
